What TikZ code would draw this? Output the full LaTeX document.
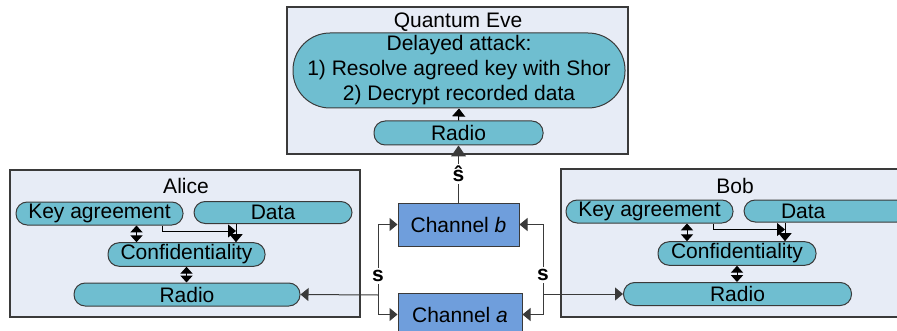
\documentclass[tikz,border=0pt]{standalone}
\usepackage{fontspec}
\setmainfont{Liberation Sans}
\usepackage{xcolor}
\usetikzlibrary{arrows.meta,calc,positioning}
\definecolor{boxfill}{HTML}{E7ECF6}
\definecolor{pillfill}{HTML}{6FBED0}
\definecolor{chanfill}{HTML}{6F9EDC}
\definecolor{edge}{HTML}{3A3A3A}
\tikzset{%
	party/.style    = {draw=edge, fill=boxfill, rectangle, line width=0.6pt}, % Alice, Bob, Eve
	pill/.style     = {draw=edge, fill=pillfill, rectangle, rounded corners=5.6pt, minimum height=11.5pt, inner sep=1pt, line width=0.5pt},
	chan/.style     = {draw=edge, fill=chanfill, rectangle, minimum width=60.5pt, minimum height=21.5pt, line width=0.5pt},
	title/.style    = {inner sep=1pt},
	lbl/.style      = {fill=white, inner sep=1pt, font=\fontsize{10.5}{12}\selectfont\bfseries},
	waypoint/.style = {coordinate},
	tip/.style      = {draw=edge, line width=0.5pt, -{Triangle[length=4pt,width=6.5pt]}},
	dtip/.style     = {draw=black, line width=0.5pt, {Triangle[length=3.4pt,width=6pt]}-{Triangle[length=3.4pt,width=6pt]}},
	bigtip/.style   = {draw=edge, line width=0.5pt, -{Triangle[length=5.5pt,width=7.5pt]}},
}

\begin{document}
\begin{tikzpicture}[x=0.5pt,y=-0.5pt,font=\fontsize{10.5}{12.5}\selectfont]
	\useasboundingbox (0,0) rectangle (897,331);
	\clip (0,0) rectangle (897,331);

	% Eve
	\node [party,minimum width=170.5pt,minimum height=73.5pt] (eve) at (457.5,80.5) {};
	\node [title] (evet) at (458,22) {Quantum Eve};
	\node [pill,rounded corners=18.5pt,minimum width=166pt,minimum height=37.5pt,align=center] (attack) at (459,70.5)
		{Delayed attack:\\1) Resolve agreed key with Shor\\2) Decrypt recorded data};
	\node [pill,minimum width=84.5pt,minimum height=12pt] (eradio) at (458.5,133) {Radio};

	% Alice
	\node [party,minimum width=175pt,minimum height=73.5pt] (alice) at (185,243.5) {};
	\node [title] (alicet) at (186,186) {Alice};
	\node [pill,minimum width=83.5pt] (aka) at (99.5,213.5) {Key agreement};
	\node [pill,minimum width=79pt,minimum height=11pt] (adata) at (273,212.5) {Data};
	\node [pill,minimum width=78.5pt] (aconf) at (186.5,254.5) {Confidentiality};
	\node [pill,minimum width=113pt] (aradio) at (187,294.5) {Radio};

	% Bob
	\node [party,minimum width=175pt,minimum height=74pt] (bob) at (736,243) {};
	\node [title] (bobt) at (735,186) {Bob};
	\node [pill,minimum width=83.5pt] (bka) at (649.5,211.5) {Key agreement};
	\node [pill,minimum width=82pt,minimum height=11pt,text width=75pt,align=left] (bdata) at (826,211) {\hspace{15pt}Data};
	\node [pill,minimum width=79pt] (bconf) at (737,253.5) {Confidentiality};
	\node [pill,minimum width=114pt] (bradio) at (737.5,294) {Radio};

	% channels
	\node [chan] (chb) at (458.5,224.5) {Channel \textit{b}};
	\node [chan,minimum width=62pt] (cha) at (460,314.5) {Channel \textit{a}};
	\node [waypoint] (jl) at (378,295) {};
	\node [waypoint] (jr) at (543,294) {};

	% inside Alice
	\coordinate (aka1) at ($(aka.south)+(37,0)$);
	\coordinate (aka2) at ($(aka.south)+(62.5,0)$);
	\coordinate (adt) at ($(adata.south)+(-37,0)$);
	\draw[dtip] (aka1) -- (aka1 |- aconf.north);
	\draw[dtip] (aconf.south) -- (aconf.south |- aradio.north);
	\draw[tip,draw=black] (aka2) |- ($(adt)+(0,7)$);
	\draw[tip,draw=black] (adt) -- (adt |- aconf.north);

	% inside Bob
	\coordinate (bka1) at ($(bka.south)+(37.5,0)$);
	\coordinate (bka2) at ($(bka.south)+(63.5,0)$);
	\coordinate (bdt) at ($(bdata.south)+(-41,0)$);
	\draw[dtip] (bka1) -- (bka1 |- bconf.north);
	\draw[dtip] (bconf.south) -- (bconf.south |- bradio.north);
	\draw[tip,draw=black] (bka2) |- ($(bdt)+(0,7)$);
	\draw[tip,draw=black] (bdt) -- (bdt |- bconf.north);

	% radio links
	\draw[tip] (jl) -- (aradio.east);
	\draw[tip] (jl) |- (chb.west);
	\draw[tip] (jl) |- (cha.west);
	\draw[tip] (jr) -- (bradio.west);
	\draw[tip] (jr) |- (chb.east);
	\draw[tip] (jr) |- (cha.east);
	\draw[bigtip] (chb.north) -- node[lbl] {ŝ} (eradio.south);
	\draw[tip,draw=black] (eradio.north) -- (attack.south);

	\node [lbl] (sl) at (378,276) {s};
	\node [lbl] (sr) at (543,275) {s};
\end{tikzpicture}
\end{document}
